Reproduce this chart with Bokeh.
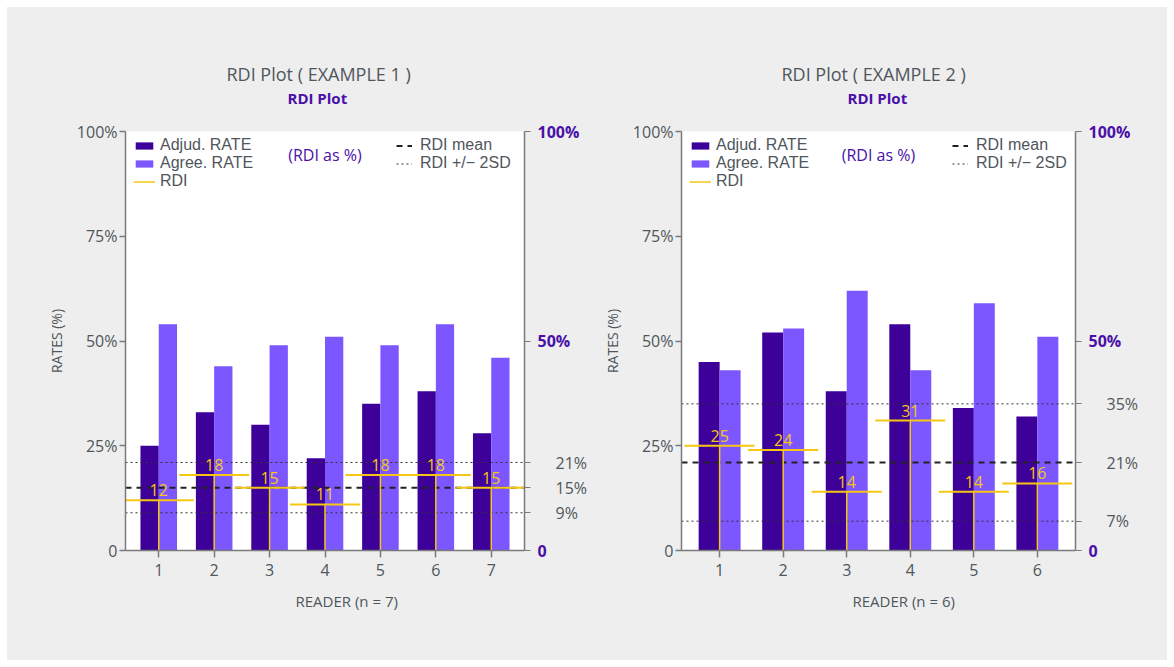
from bokeh.plotting import figure
from bokeh.models import (ColumnDataSource, Range1d, LinearAxis, FixedTicker, Legend,
                          LegendItem, Label, Title)
from bokeh.transform import dodge
from bokeh.layouts import row
from bokeh.core.properties import value
from bokeh.embed import file_html
from bokeh.resources import INLINE

# ---------------- data ----------------
readers_1 = [1, 2, 3, 4, 5, 6, 7]
adjud_1 = [25, 33, 30, 22, 35, 38, 28]
agree_1 = [54, 44, 49, 51, 49, 54, 46]
rdi_1 = [12, 18, 15, 11, 18, 18, 15]
rdi_mean_1 = 15
rdi_sd_1 = [9, 21]

readers_2 = [1, 2, 3, 4, 5, 6]
adjud_2 = [45, 52, 38, 54, 34, 32]
agree_2 = [43, 53, 62, 43, 59, 51]
rdi_2 = [25, 24, 14, 31, 14, 16]
rdi_mean_2 = 21
rdi_sd_2 = [7, 35]

left_ticks = [0, 25, 50, 75, 100]
left_tick_labels = ["0", "25%", "50%", "75%", "100%"]
right_ticks = [0, 50, 100]
right_tick_labels = ["0", "50%", "100%"]

# ---------------- style ----------------
FONT = "Open Sans"
LEG_FONT = "Liberation Sans"
BG = "#eeeeee"
DARK = "#3d0099"
LIGHT = "#7c56fe"
YELLOW = "#f5c713"
GREY_TXT = "#4f565c"
PURPLE_TXT = "#4a10a8"
AXIS = "#7a7a7a"


def style_axis(ax, size="16px", color=GREY_TXT):
    ax.axis_line_color = AXIS
    ax.axis_line_width = 1.5
    ax.major_tick_line_color = AXIS
    ax.major_tick_line_width = 1.5
    ax.major_tick_in = 0
    ax.minor_tick_line_color = None
    ax.major_label_text_font = FONT
    ax.major_label_text_font_size = size
    ax.major_label_text_color = color
    ax.axis_label_text_font = FONT
    ax.axis_label_text_font_style = "normal"
    ax.axis_label_text_color = GREY_TXT


def one_item_legend(p, label, renderer, loc, glyph_width, standoff):
    lg = Legend(items=[LegendItem(label=label, renderers=[renderer])], location=loc)
    lg.margin = 0
    lg.padding = 0
    lg.glyph_width = glyph_width
    lg.glyph_height = 9
    lg.label_height = 14
    lg.label_standoff = standoff
    lg.label_text_font = LEG_FONT
    lg.label_text_font_size = "16px"
    lg.label_text_color = GREY_TXT
    lg.border_line_color = None
    lg.background_fill_alpha = 0
    p.add_layout(lg)


def make_chart(readers, adjud, agree, rdi, mean, sd, title, xlabel,
               width, b_left, b_right, title_off, sub_off, xlab_off):
    n = len(readers)
    x0, x1 = 0.4, n + 0.6
    p = figure(width=width, height=653, x_range=Range1d(x0, x1), y_range=Range1d(0, 100),
               output_backend="svg", toolbar_location=None, tools="",
               min_border_left=b_left, min_border_right=b_right,
               min_border_top=124, min_border_bottom=110,
               background_fill_color="white", border_fill_color=BG,
               outline_line_color=None, y_axis_location=None, x_axis_location=None)
    p.grid.visible = False

    src = ColumnDataSource(dict(reader=readers, adjud=adjud, agree=agree, rdi=rdi,
                                zero=[0] * n, lab=[str(v) for v in rdi]))

    r_adj = p.vbar(x=dodge("reader", -0.165, range=p.x_range), top="adjud", width=0.33,
                   source=src, fill_color=DARK, line_color=None)
    r_agr = p.vbar(x=dodge("reader", 0.165, range=p.x_range), top="agree", width=0.33,
                   source=src, fill_color=LIGHT, line_color=None)

    r_sd = p.segment(x0=[x0, x0], x1=[x1, x1], y0=sd, y1=sd, line_color="#333333",
                     line_width=1, line_dash="2 3")
    r_mean = p.segment(x0=[x0], x1=[x1], y0=[mean], y1=[mean], line_color="#222222",
                       line_width=2, line_dash="6 5")

    r_rdi = p.segment(x0="reader", x1="reader", y0="zero", y1="rdi", source=src,
                      line_color=YELLOW, line_width=1.5)
    p.dash(x="reader", y="rdi", size=70, source=src, line_color=YELLOW, line_width=2)
    p.text(x="reader", y=dodge("rdi", 2.4, range=p.y_range), text="lab", source=src,
           text_align="center", text_baseline="alphabetic", text_font_size="16px",
           text_color=YELLOW, text_font=value(FONT))

    # bottom axis
    xa = LinearAxis(ticker=FixedTicker(ticks=readers))
    style_axis(xa)
    xa.major_tick_out = 7
    xa.major_label_standoff = 6
    p.add_layout(xa, "below")
    p.add_layout(Title(text=xlabel, align="left", offset=xlab_off, standoff=24,
                       vertical_align="top", text_font=FONT, text_font_size="15px",
                       text_font_style="normal", text_color=GREY_TXT), "below")

    # left axis
    ya = LinearAxis(ticker=FixedTicker(ticks=left_ticks), axis_label="RATES (%)")
    ya.major_label_overrides = {t: l for t, l in zip(left_ticks, left_tick_labels)}
    style_axis(ya)
    ya.major_tick_out = 6
    ya.major_label_standoff = 2
    ya.axis_label_text_font_size = "14px"
    ya.axis_label_standoff = 8
    p.add_layout(ya, "left")

    # right axis (purple)
    rticks = right_ticks + list(sd) + [mean]
    ra = LinearAxis(ticker=FixedTicker(ticks=rticks))
    overrides = {t: "" for t in rticks}
    overrides.update({t: l for t, l in zip(right_ticks, right_tick_labels)})
    ra.major_label_overrides = overrides
    style_axis(ra, size="16px", color=PURPLE_TXT)
    ra.major_tick_line_width = 1
    ra.major_tick_out = 6
    ra.major_label_text_font_style = "bold"
    ra.major_label_standoff = 7
    p.add_layout(ra, "right")

    # labels of the mean / 2SD lines (second right axis, pulled back in)
    sd_ticks = sorted(list(sd) + [mean])
    rb = LinearAxis(ticker=FixedTicker(ticks=sd_ticks))
    rb.major_label_overrides = {t: f"{t}%" for t in sd_ticks}
    style_axis(rb, size="16px", color=GREY_TXT)
    rb.axis_line_color = None
    rb.major_tick_line_color = None
    rb.major_tick_out = 0
    rb.major_label_standoff = -27
    p.add_layout(rb, "right")

    # titles (spacer, subtitle, title stacked above the frame)
    p.add_layout(Title(text=" ", text_font=FONT, text_font_size="10px",
                       text_color=BG, standoff=8), "above")
    p.add_layout(Title(text="RDI Plot", align="left", offset=sub_off, standoff=0,
                       text_font=FONT, text_font_size="15px", text_font_style="bold",
                       text_color=PURPLE_TXT), "above")
    p.add_layout(Title(text=title, align="left", offset=title_off, standoff=0,
                       text_font=FONT, text_font_size="18px", text_font_style="normal",
                       text_color=GREY_TXT), "above")
    xc = (x0 + x1) / 2
    p.add_layout(Label(x=xc, y=100, y_offset=-23, text="(RDI as %)", text_font=FONT,
                       text_font_size="16px", text_color=PURPLE_TXT,
                       text_align="center", text_baseline="middle"))

    # legends (one item each, stacked at a tight pitch)
    one_item_legend(p, "Adjud. RATE", r_adj, (8, 396), 22, 5)
    one_item_legend(p, "Agree. RATE", r_agr, (8, 378), 22, 5)
    one_item_legend(p, "RDI", r_rdi, (8, 360), 22, 5)
    one_item_legend(p, "RDI mean", r_mean, (271, 396), 16, 8)
    one_item_legend(p, "RDI +/\u2212 2SD", r_sd, (271, 378), 16, 8)
    return p


p1 = make_chart(readers_1, adjud_1, agree_1, rdi_1, rdi_mean_1, rdi_sd_1,
                "RDI Plot ( EXAMPLE 1 )", "READER  (n = 7)", 592, 118, 75,
                title_off=101, sub_off=162, xlab_off=170)
p2 = make_chart(readers_2, adjud_2, agree_2, rdi_2, rdi_mean_2, rdi_sd_2,
                "RDI Plot ( EXAMPLE 2 )", "READER  (n = 6)", 568, 74, 92,
                title_off=100, sub_off=166, xlab_off=171)

layout = row(p1, p2, spacing=0, margin=(7, 0, 0, 7),
             styles={"background-color": BG})
open("out.html", "w").write(file_html(layout, INLINE))
